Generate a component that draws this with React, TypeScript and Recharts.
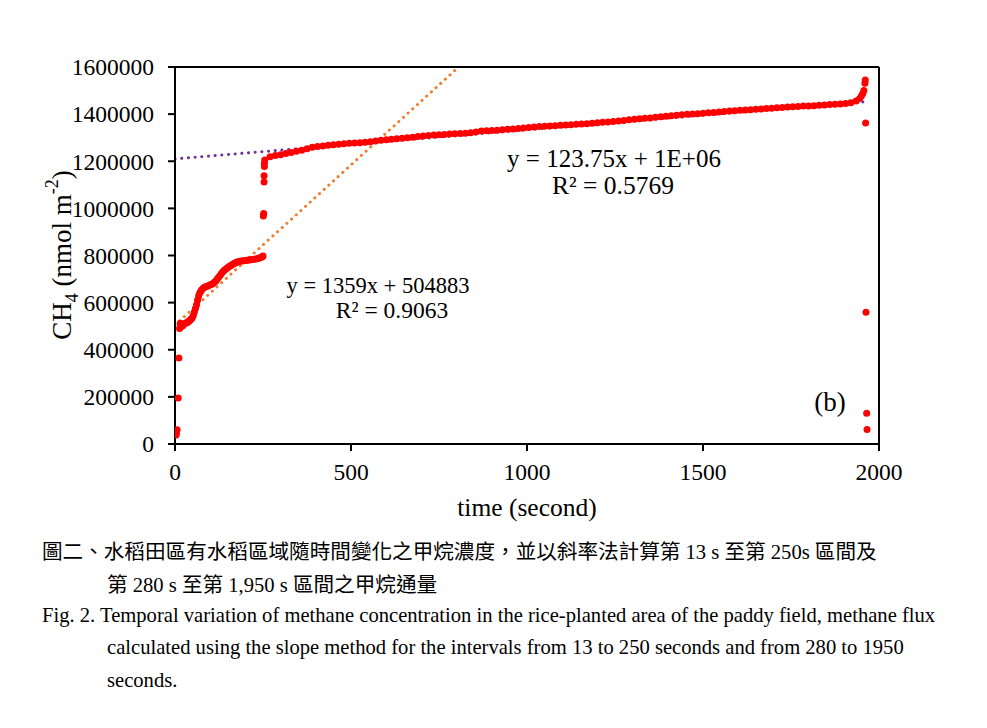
import { ComposedChart, Scatter, Line, XAxis, YAxis, ReferenceLine } from 'recharts';

// CH4 readings (nmol m-2) against time (s)
const startSec = [3, 4, 6, 9, 11];
const startCH4 = [38000, 46000, 60000, 195000, 365000];

const rampSec = [
  13, 15, 17, 19, 22, 25, 28, 31, 34, 37, 40, 43, 46, 49, 52, 55, 58, 61, 64, 67,
  70, 73, 76, 80, 84, 88, 92, 96, 100, 104, 108, 112, 116, 120, 124, 128, 132, 136,
  140, 144, 148, 152, 156, 160, 164, 168, 172, 176, 180, 185, 190, 195, 200, 205,
  210, 215, 220, 225, 230, 235, 240, 244, 248, 250,
];
const rampCH4 = [
  490000, 512000, 498000, 505000, 502000, 508000, 512000, 514000, 515000, 518000,
  522000, 526000, 530000, 536000, 545000, 560000, 575000, 590000, 610000, 628000,
  640000, 648000, 655000, 661000, 665000, 668000, 670000, 673000, 676000, 678000,
  681000, 686000, 692000, 700000, 708000, 715000, 724000, 731000, 737000, 742000,
  747000, 751000, 755000, 759000, 763000, 766000, 769000, 772000, 774000, 776000,
  777000, 778000, 779000, 780000, 781000, 782000, 783000, 784000, 785000, 787000,
  789000, 791000, 795000, 798000,
];

const jumpSec = [251, 252, 253, 253, 254, 254];
const jumpCH4 = [968000, 978000, 1112000, 1138000, 1178000, 1192000];

const upperSec = [
  255, 270, 285, 300, 315, 330, 345, 360, 375, 390, 405, 420, 435, 450, 465, 480, 495,
  510, 525, 540, 555, 570, 585, 600, 615, 630, 645, 660, 675, 690, 705, 720, 735, 750,
  765, 780, 795, 810, 825, 840, 855, 870, 885, 900, 915, 930, 945, 960, 975, 990, 1005,
  1020, 1035, 1050, 1065, 1080, 1095, 1110, 1125, 1140, 1155, 1170, 1185, 1200, 1215,
  1230, 1245, 1260, 1275, 1290, 1305, 1320, 1335, 1350, 1365, 1380, 1395, 1410, 1425,
  1440, 1455, 1470, 1485, 1500, 1515, 1530, 1545, 1560, 1575, 1590, 1605, 1620, 1635,
  1650, 1665, 1680, 1695, 1710, 1725, 1740, 1755, 1770, 1785, 1800, 1815, 1830, 1845,
  1860, 1875, 1890, 1905, 1920, 1935, 1945, 1950, 1954, 1957,
];
const upperCH4 = [
  1205000, 1219000, 1224000, 1228000, 1233000, 1237000, 1242000, 1247000, 1253000,
  1259000, 1263000, 1265000, 1268000, 1270000, 1272000, 1274000, 1276000, 1277000,
  1279000, 1281000, 1283000, 1286000, 1289000, 1291000, 1293000, 1296000, 1298000,
  1300000, 1302000, 1305000, 1307000, 1309000, 1311000, 1312000, 1314000, 1316000,
  1317000, 1318000, 1319000, 1321000, 1324000, 1328000, 1329000, 1331000, 1332000,
  1334000, 1336000, 1337000, 1339000, 1341000, 1343000, 1345000, 1347000, 1349000,
  1350000, 1351000, 1353000, 1354000, 1355000, 1357000, 1358000, 1359000, 1361000,
  1363000, 1365000, 1367000, 1369000, 1371000, 1373000, 1376000, 1378000, 1380000,
  1382000, 1384000, 1387000, 1389000, 1391000, 1393000, 1395000, 1397000, 1399000,
  1401000, 1402000, 1404000, 1406000, 1407000, 1409000, 1411000, 1413000, 1414000,
  1416000, 1418000, 1419000, 1421000, 1422000, 1424000, 1425000, 1427000, 1428000,
  1430000, 1431000, 1432000, 1434000, 1435000, 1436000, 1438000, 1439000, 1441000,
  1442000, 1443000, 1445000, 1448000, 1456000, 1466000, 1477000, 1488000, 1500000,
];

const tailSec = [1960, 1961, 1962, 1963, 1965, 1966];
const tailCH4 = [1531000, 1545000, 1362000, 559000, 130000, 62000];

// trendline end points (y = 1359x + 504883 and y = 123.75x + 1E+06)
const fitEarlySec = [0, 806];
const fitEarlyCH4 = [504883, 1600000];
const fitLateSec = [0, 1966];
const fitLateCH4 = [1210000, 1453000];

const xTicks = [0, 500, 1000, 1500, 2000];
const yTicks = [0, 200000, 400000, 600000, 800000, 1000000, 1200000, 1400000, 1600000];

const zip = (xs: number[], ys: number[]) => xs.map((sec, i) => ({ sec, ch4: ys[i] }));

const points = [
  ...zip(startSec, startCH4),
  ...zip(rampSec, rampCH4),
  ...zip(jumpSec, jumpCH4),
  ...zip(upperSec, upperCH4),
  ...zip(tailSec, tailCH4),
];
const fitEarly = zip(fitEarlySec, fitEarlyCH4);
const fitLate = zip(fitLateSec, fitLateCH4);

const SERIF = '"Liberation Serif", "Times New Roman", serif';
const CJK = '"Liberation Serif", "Noto Sans CJK TC", serif';

const Dot = (props: { cx?: number; cy?: number }) => (
  <circle cx={props.cx} cy={props.cy} r={3.5} fill="#ff0000" />
);

export default function App() {
  const tick = { fontSize: 23.5, fill: '#000', fontFamily: SERIF };
  return (
    <div style={{ position: 'absolute', left: 0, top: 0, width: 987, height: 728, background: '#fff' }}>
      <ComposedChart
        width={987}
        height={540}
        data={points}
        margin={{ top: 67, right: 108, left: 80, bottom: 36 }}
      >
        <XAxis
          type="number"
          dataKey="sec"
          domain={[0, 2000]}
          ticks={xTicks}
          tick={tick}
          tickSize={7}
          tickMargin={12}
          height={60}
          axisLine={{ stroke: '#000', strokeWidth: 2 }}
          tickLine={{ stroke: '#000', strokeWidth: 2 }}
          allowDataOverflow
        />
        <YAxis
          type="number"
          domain={[0, 1600000]}
          ticks={yTicks}
          tick={tick}
          tickSize={7}
          tickMargin={14}
          width={95}
          axisLine={{ stroke: '#000', strokeWidth: 2 }}
          tickLine={{ stroke: '#000', strokeWidth: 2 }}
          allowDataOverflow
        />
        <ReferenceLine y={1600000} stroke="#000" strokeWidth={2} />
        <ReferenceLine x={2000} stroke="#000" strokeWidth={2} />
        <Scatter dataKey="ch4" shape={Dot} isAnimationActive={false} />
        <Line
          data={fitEarly}
          dataKey="ch4"
          stroke="#ed7d31"
          strokeWidth={3}
          strokeDasharray="0.1 6.2"
          strokeLinecap="round"
          dot={false}
          activeDot={false}
          isAnimationActive={false}
        />
        <Line
          data={fitLate}
          dataKey="ch4"
          stroke="#7030a0"
          strokeWidth={3}
          strokeDasharray="0.1 6.6"
          strokeLinecap="round"
          dot={false}
          activeDot={false}
          isAnimationActive={false}
        />
      </ComposedChart>

      <svg
        width={987}
        height={540}
        style={{ position: 'absolute', left: 0, top: 0, pointerEvents: 'none' }}
        fontFamily={SERIF}
        fill="#000"
      >
        <text x={527} y={507} textAnchor="middle" dominantBaseline="central" fontSize={25.5}>
          time (second)
        </text>
        <text transform="translate(62,255) rotate(-90)" textAnchor="middle" dominantBaseline="central" fontSize={27}>
          CH<tspan baselineShift="sub" fontSize={18}>4</tspan> (nmol m<tspan baselineShift="super" fontSize={18}>-2</tspan>)
        </text>
        <text x={378} y={285} textAnchor="middle" dominantBaseline="central" fontSize={22.5}>
          y = 1359x + 504883
        </text>
        <text x={392} y={310} textAnchor="middle" dominantBaseline="central" fontSize={23.5}>
          R² = 0.9063
        </text>
        <text x={614} y={158} textAnchor="middle" dominantBaseline="central" fontSize={25}>
          y = 123.75x + 1E+06
        </text>
        <text x={613} y={185} textAnchor="middle" dominantBaseline="central" fontSize={25.5}>
          R² = 0.5769
        </text>
        <text x={830} y={402} textAnchor="middle" dominantBaseline="central" fontSize={27}>
          (b)
        </text>
      </svg>

      <div style={{ position: 'absolute', left: 42, top: 541, fontFamily: CJK, fontSize: 20.6, lineHeight: '22px', whiteSpace: 'nowrap' }}>
        圖二、水稻田區有水稻區域隨時間變化之甲烷濃度，並以斜率法計算第 13 s 至第 250s 區間及
      </div>
      <div style={{ position: 'absolute', left: 107, top: 574, fontFamily: CJK, fontSize: 20.6, lineHeight: '22px', whiteSpace: 'nowrap' }}>
        第 280 s 至第 1,950 s 區間之甲烷通量
      </div>
      <div style={{ position: 'absolute', left: 42, top: 604, fontFamily: SERIF, fontSize: 20.6, lineHeight: '22px', whiteSpace: 'nowrap' }}>
        Fig. 2. Temporal variation of methane concentration in the rice-planted area of the paddy field, methane flux
      </div>
      <div style={{ position: 'absolute', left: 107, top: 636, fontFamily: SERIF, fontSize: 20.6, lineHeight: '22px', whiteSpace: 'nowrap' }}>
        calculated using the slope method for the intervals from 13 to 250 seconds and from 280 to 1950
      </div>
      <div style={{ position: 'absolute', left: 107, top: 669, fontFamily: SERIF, fontSize: 20.6, lineHeight: '22px', whiteSpace: 'nowrap' }}>
        seconds.
      </div>
    </div>
  );
}
